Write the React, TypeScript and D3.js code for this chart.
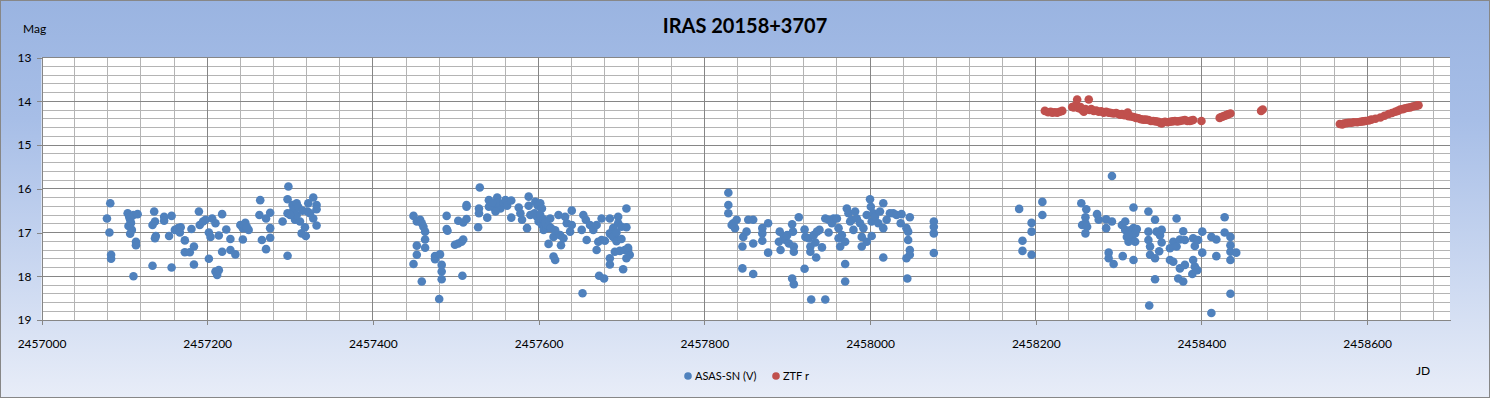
import React, { useEffect, useRef } from "react";
import * as d3 from "d3";

const JD0 = 2457000;

// ASAS-SN (V): [JD - 2457000, mag]
const asasSeason1 = [
  [83, 16.33], [79, 16.68], [82, 17.0], [84, 17.51], [84, 17.6],
  [104, 16.56], [107, 16.71], [111, 16.6], [116, 16.58], [105, 16.85], [109, 16.94], [107, 17.03],
  [114, 17.21], [114, 17.29], [111, 18.0], [106, 16.65], [108, 16.78],
  [136, 16.52], [134, 16.83], [137, 16.75], [138, 17.08], [137, 17.13], [134, 17.76],
  [148, 16.64], [148, 16.73], [157, 16.62], [154, 17.08], [157, 17.8],
  [161, 16.94], [165, 16.9], [168, 16.88], [167, 17.0], [173, 17.18], [173, 17.45], [179, 17.45],
  [184, 17.32], [184, 17.73],
  [181, 16.92], [190, 16.52], [191, 16.83], [195, 16.75], [198, 16.71], [202, 17.0], [204, 17.1],
  [206, 16.68], [210, 16.79], [214, 17.07], [202, 17.6], [210, 17.89], [212, 17.97], [214, 17.86],
  [218, 16.58], [223, 16.93], [228, 17.15], [218, 17.44], [228, 17.4], [234, 17.5],
  [240, 16.83], [243, 16.9], [246, 16.78], [250, 16.94], [243, 17.16], [245, 16.85], [248, 16.88],
  [264, 16.26], [263, 16.6], [271, 16.68], [276, 16.55], [276, 16.9], [266, 17.17], [276, 17.12], [271, 17.38],
  [298, 15.95], [297, 16.24], [291, 16.75], [297, 16.56], [303, 16.37], [308, 16.33], [304, 16.48],
  [306, 16.71], [312, 16.75], [314, 17.02], [319, 17.08], [322, 16.33], [321, 16.52], [328, 16.2],
  [332, 16.37], [332, 16.47], [328, 16.68], [332, 16.84], [297, 17.53], [318, 16.88], [324, 16.56],
  [308, 16.6], [300, 16.6], [310, 16.42], [315, 16.5],
];

const asasSeason2 = [
  [449, 16.62], [453, 16.75], [457, 16.71], [459, 16.79], [461, 16.87], [463, 16.98], [463, 17.16],
  [463, 17.35], [453, 17.3], [453, 17.51], [449, 17.72], [459, 18.12],
  [475, 17.54], [475, 17.61], [481, 17.5], [483, 17.74], [483, 17.89], [483, 18.07], [480, 18.52],
  [489, 16.62], [489, 16.92], [490, 16.96],
  [499, 17.28], [503, 17.25], [507, 17.21], [509, 17.16], [508, 17.99], [503, 16.73], [509, 16.77],
  [513, 16.69], [513, 16.41], [513, 16.37],
  [527, 16.88], [528, 16.56], [529, 15.97], [528, 16.45], [538, 16.66], [540, 16.26], [542, 16.36],
  [546, 16.42], [550, 16.2], [554, 16.45], [551, 16.32], [548, 16.52], [540, 16.41], [544, 16.32],
  [558, 16.33], [560, 16.26], [562, 16.39], [567, 16.27], [567, 16.66], [576, 16.43], [578, 16.56],
  [580, 16.71], [586, 16.9], [588, 16.18], [588, 16.39], [590, 16.6], [596, 16.3], [599, 16.39],
  [602, 16.33], [604, 16.45], [595, 16.56], [598, 16.64], [600, 16.75], [604, 16.83], [606, 16.94],
  [610, 16.9], [612, 17.26], [614, 16.68], [618, 17.1], [618, 17.55], [620, 17.63], [624, 16.6],
  [626, 17.06], [627, 17.29], [630, 17.13], [632, 16.64], [634, 16.79], [638, 16.98], [640, 16.5],
  [640, 16.83], [653, 18.39], [602, 16.6], [606, 16.7], [608, 16.78], [612, 16.85], [615, 16.9], [620, 16.95],
  [652, 16.94], [654, 16.6], [657, 16.71], [658, 17.17], [662, 16.83], [666, 16.94], [670, 16.83],
  [670, 17.4], [672, 17.21], [676, 16.68], [676, 17.17], [680, 17.19], [686, 16.68], [686, 17.02],
  [690, 16.9], [692, 17.1], [696, 16.64], [696, 16.79], [700, 16.87], [706, 16.45], [706, 16.88],
  [686, 17.59], [686, 17.73], [673, 17.99], [679, 18.05], [702, 17.84], [708, 17.4], [710, 17.51],
  [706, 17.59], [692, 17.44], [698, 17.42], [688, 17.05], [690, 17.1], [694, 17.0], [694, 17.2],
  [700, 17.15], [704, 17.4], [708, 17.35],
];

const asasSeason3 = [
  [829, 16.09], [829, 16.37], [829, 16.56], [835, 16.79], [839, 16.71], [837, 16.9], [833, 16.83],
  [846, 17.82], [846, 17.32], [847, 17.1], [851, 16.98], [853, 16.71], [859, 16.71], [859, 17.25],
  [859, 17.95], [870, 16.9], [870, 17.02], [870, 17.19], [877, 16.79], [877, 17.46],
  [891, 16.98], [890, 17.21], [892, 17.4], [896, 17.1], [898, 17.17], [900, 17.06], [902, 17.25],
  [906, 16.81], [907, 16.98], [908, 17.32], [908, 17.44], [914, 16.65], [906, 18.05], [908, 18.18],
  [921, 16.93], [921, 17.83], [922, 17.1], [926, 17.13], [928, 17.32], [928, 17.44], [932, 17.06],
  [934, 17.23], [935, 17.57], [936, 16.98], [939, 16.94], [942, 17.34], [929, 18.53], [946, 18.53],
  [946, 16.68], [950, 16.71], [950, 17.0], [954, 16.79], [956, 16.68], [960, 16.68], [962, 16.9],
  [962, 17.13], [966, 17.06], [964, 17.32], [970, 17.21], [970, 17.72], [970, 18.12], [972, 16.45],
  [974, 16.56], [976, 16.75], [978, 16.71], [980, 16.94], [982, 16.52], [984, 16.68], [988, 16.79],
  [990, 17.1], [990, 17.32], [992, 16.9], [996, 17.21], [996, 16.6], [1000, 16.24], [1001, 16.41],
  [1002, 16.75], [1002, 17.08], [1004, 16.56], [1006, 16.64], [1010, 16.79], [1012, 16.52],
  [1016, 16.33], [1016, 17.57], [1016, 16.9], [1020, 16.71], [1024, 16.56], [1028, 16.56],
  [1032, 16.6], [1038, 16.58], [1037, 16.79], [1044, 16.9], [1048, 16.65], [1046, 16.98],
  [1046, 17.17], [1048, 17.4], [1048, 17.51], [1044, 17.59], [1045, 18.05],
  [1077, 16.75], [1077, 16.87], [1077, 17.02], [1077, 17.47],
];

const asasSeason4 = [
  [1180, 16.46], [1184, 17.19], [1184, 17.42], [1195, 16.78], [1195, 16.98], [1195, 17.51],
  [1208, 16.3], [1208, 16.6], [1292, 15.71],
  [1255, 16.33], [1261, 16.47], [1260, 16.65], [1260, 16.79], [1256, 16.83], [1262, 16.87], [1260, 17.02],
  [1274, 16.58], [1276, 16.71], [1285, 16.7], [1285, 16.9], [1288, 17.46], [1288, 17.59], [1294, 17.72],
  [1292, 16.75], [1305, 17.54], [1304, 16.83], [1308, 16.75], [1308, 16.94], [1310, 17.1], [1312, 17.21],
  [1316, 17.13], [1318, 16.43], [1318, 16.9], [1320, 17.21], [1318, 17.63], [1314, 16.95], [1316, 17.0],
  [1320, 17.02], [1312, 17.05], [1322, 16.92],
  [1336, 16.52], [1344, 16.71], [1336, 16.98], [1336, 17.17], [1338, 17.32], [1338, 17.51], [1344, 17.59],
  [1344, 18.07], [1349, 17.43], [1346, 16.98], [1350, 17.06], [1352, 16.94], [1352, 17.23], [1337, 18.67],
  [1370, 16.68], [1378, 16.97], [1366, 17.21], [1362, 17.36], [1370, 17.32], [1374, 17.16], [1380, 17.17],
  [1362, 17.63], [1366, 17.67], [1374, 17.82], [1372, 18.05], [1378, 18.12], [1380, 17.74],
  [1390, 17.13], [1392, 17.31], [1396, 17.17], [1390, 17.63], [1392, 17.78], [1389, 17.95], [1395, 17.86],
  [1401, 16.98], [1401, 17.46], [1412, 17.1], [1418, 17.16], [1418, 17.54], [1428, 16.65], [1428, 17.0],
  [1435, 17.1], [1435, 17.29], [1435, 17.44], [1442, 17.46], [1435, 17.63], [1435, 18.4], [1412, 18.84],
];

// ZTF r: [JD - 2457000, mag]
const ztfPoints = [
  [1211, 14.22], [1215, 14.25], [1218, 14.24], [1220, 14.26], [1223, 14.25], [1226, 14.26], [1229, 14.24], [1232, 14.22],
  [1244, 14.13], [1250, 13.96], [1246, 14.14], [1248, 14.1], [1252, 14.16], [1254, 14.13], [1256, 14.2], [1258, 14.24],
  [1260, 14.18], [1264, 13.96], [1265, 14.2], [1267, 14.18], [1270, 14.22], [1273, 14.21], [1276, 14.24],
  [1279, 14.23], [1282, 14.26], [1285, 14.24], [1288, 14.26], [1291, 14.27], [1294, 14.28], [1297, 14.27],
  [1300, 14.29], [1302, 14.31], [1304, 14.29], [1307, 14.32], [1311, 14.26], [1312, 14.34], [1315, 14.35],
  [1318, 14.36], [1321, 14.38], [1324, 14.39], [1327, 14.41], [1330, 14.42], [1333, 14.42], [1336, 14.43],
  [1339, 14.45], [1342, 14.45], [1345, 14.46], [1348, 14.47], [1350, 14.49], [1352, 14.51], [1354, 14.48],
  [1356, 14.47], [1359, 14.48], [1362, 14.47], [1365, 14.46], [1368, 14.45], [1371, 14.46], [1374, 14.45],
  [1377, 14.44], [1380, 14.43], [1383, 14.45], [1386, 14.45], [1388, 14.44], [1390, 14.43], [1400, 14.45],
  [1422, 14.38], [1424, 14.36], [1426, 14.35], [1428, 14.33], [1430, 14.32], [1432, 14.3], [1435, 14.28],
  [1472, 14.22], [1474, 14.19],
  [1567, 14.52], [1570, 14.53], [1572, 14.51], [1575, 14.5], [1578, 14.49], [1581, 14.49], [1584, 14.48],
  [1588, 14.48], [1592, 14.47], [1595, 14.46], [1598, 14.45], [1602, 14.44], [1605, 14.42], [1610, 14.4],
  [1616, 14.37], [1621, 14.33], [1626, 14.29], [1630, 14.27], [1634, 14.24], [1637, 14.22], [1640, 14.19],
  [1643, 14.18], [1646, 14.16], [1649, 14.15], [1652, 14.14], [1655, 14.12], [1658, 14.11], [1660, 14.1],
  [1662, 14.09],
];

const xTicks = [2457000, 2457200, 2457400, 2457600, 2457800, 2458000, 2458200, 2458400, 2458600];
const yTicks = [13, 14, 15, 16, 17, 18, 19];

const W = 1490;
const H = 398;
const FONT = "Lato, 'Open Sans', sans-serif";
const BLUE = "#4F81BD";
const RED = "#C0504D";

function App() {
  const ref = useRef(null);

  useEffect(() => {
    const svg = d3.select(ref.current);
    svg.selectAll("*").remove();

    const x = d3.scaleLinear().domain([2457000, 2458700]).range([41.5, 1450]);
    const y = d3.scaleLinear().domain([13, 19]).range([57.5, 320]);

    const defs = svg.append("defs");
    const grad = defs
      .append("linearGradient")
      .attr("id", "bg")
      .attr("x1", 0)
      .attr("y1", 0)
      .attr("x2", 0)
      .attr("y2", 1);
    grad.append("stop").attr("offset", "0").attr("stop-color", "#9AB4E1");
    grad.append("stop").attr("offset", "0.3").attr("stop-color", "#A7BEE7");
    grad.append("stop").attr("offset", "1").attr("stop-color", "#E8EDF8");

    svg
      .append("rect")
      .attr("x", 0.5)
      .attr("y", 0.5)
      .attr("width", W - 1)
      .attr("height", H - 1)
      .attr("fill", "url(#bg)")
      .attr("stroke", "#878787");

    // plot area
    svg
      .append("rect")
      .attr("x", x.range()[0])
      .attr("y", y.range()[0])
      .attr("width", x.range()[1] - x.range()[0])
      .attr("height", y.range()[1] - y.range()[0])
      .attr("fill", "#fff");

    const grid = svg.append("g").attr("shape-rendering", "crispEdges");
    const xGrid = d3.range(2457040, 2458700, 40);
    const yGrid = d3.range(13, 19.001, 0.2).map((v) => Math.round(v * 10) / 10);

    // minor first, then major on top
    grid
      .selectAll("line.ym")
      .data(yGrid.filter((v) => !Number.isInteger(v)))
      .enter()
      .append("line")
      .attr("x1", x.range()[0])
      .attr("x2", x.range()[1])
      .attr("y1", (d) => y(d))
      .attr("y2", (d) => y(d))
      .attr("stroke", "#B4B4B4");
    grid
      .selectAll("line.xm")
      .data(xGrid.filter((v) => (v - JD0) % 200 !== 0))
      .enter()
      .append("line")
      .attr("x1", (d) => x(d))
      .attr("x2", (d) => x(d))
      .attr("y1", y.range()[0])
      .attr("y2", y.range()[1])
      .attr("stroke", "#B4B4B4");
    grid
      .selectAll("line.yM")
      .data(yTicks.filter((v) => v !== 19))
      .enter()
      .append("line")
      .attr("x1", x.range()[0])
      .attr("x2", x.range()[1])
      .attr("y1", (d) => y(d))
      .attr("y2", (d) => y(d))
      .attr("stroke", "#868686");
    grid
      .selectAll("line.xM")
      .data(xTicks.filter((v) => v !== JD0))
      .enter()
      .append("line")
      .attr("x1", (d) => x(d))
      .attr("x2", (d) => x(d))
      .attr("y1", y.range()[0])
      .attr("y2", y.range()[1])
      .attr("stroke", "#868686");

    // axes
    const xAxis = svg
      .append("g")
      .attr("transform", `translate(0, ${y.range()[1]})`)
      .call(d3.axisBottom(x).tickValues(xTicks).tickSize(5).tickSizeOuter(0).tickPadding(14).tickFormat(d3.format("d")));
    const yAxis = svg
      .append("g")
      .attr("transform", `translate(${x.range()[0]}, 0)`)
      .call(d3.axisLeft(y).tickValues(yTicks).tickSize(5).tickSizeOuter(0).tickPadding(5).tickFormat(d3.format("d")));
    [xAxis, yAxis].forEach((a) => {
      a.select(".domain").attr("stroke", "#868686").attr("shape-rendering", "crispEdges");
      a.selectAll(".tick line").attr("stroke", "#868686").attr("shape-rendering", "crispEdges");
      a.selectAll(".tick text").attr("fill", "#000").attr("font-family", FONT).attr("font-size", 12);
    });

    // data
    const asas = [...asasSeason1, ...asasSeason2, ...asasSeason3, ...asasSeason4];
    svg
      .append("g")
      .selectAll("circle")
      .data(asas)
      .enter()
      .append("circle")
      .attr("cx", (d) => x(JD0 + d[0]))
      .attr("cy", (d) => y(d[1]))
      .attr("r", 4.3)
      .attr("fill", BLUE);
    svg
      .append("g")
      .selectAll("circle")
      .data(ztfPoints)
      .enter()
      .append("circle")
      .attr("cx", (d) => x(JD0 + d[0]))
      .attr("cy", (d) => y(d[1]))
      .attr("r", 4.3)
      .attr("fill", RED);

    // texts
    svg
      .append("text")
      .attr("x", 745)
      .attr("y", 33)
      .attr("text-anchor", "middle")
      .attr("font-family", FONT)
      .attr("font-weight", "bold")
      .attr("font-size", 20)
      .text("IRAS 20158+3707");
    svg
      .append("text")
      .attr("x", 23)
      .attr("y", 33)
      .attr("font-family", FONT)
      .attr("font-size", 12)
      .text("Mag");
    svg
      .append("text")
      .attr("x", 1416)
      .attr("y", 375)
      .attr("font-family", FONT)
      .attr("font-size", 12)
      .text("JD");

    // legend
    const legend = svg.append("g").attr("font-family", FONT).attr("font-size", 11);
    legend.append("circle").attr("cx", 688).attr("cy", 376).attr("r", 3.8).attr("fill", BLUE);
    legend.append("text").attr("x", 695).attr("y", 380).text("ASAS-SN (V)");
    legend.append("circle").attr("cx", 776).attr("cy", 376).attr("r", 3.8).attr("fill", RED);
    legend.append("text").attr("x", 783).attr("y", 380).text("ZTF r");
  }, []);

  return (
    <svg
      ref={ref}
      width={W}
      height={H}
      style={{ position: "absolute", left: 0, top: 0, display: "block" }}
    />
  );
}

export default App;
